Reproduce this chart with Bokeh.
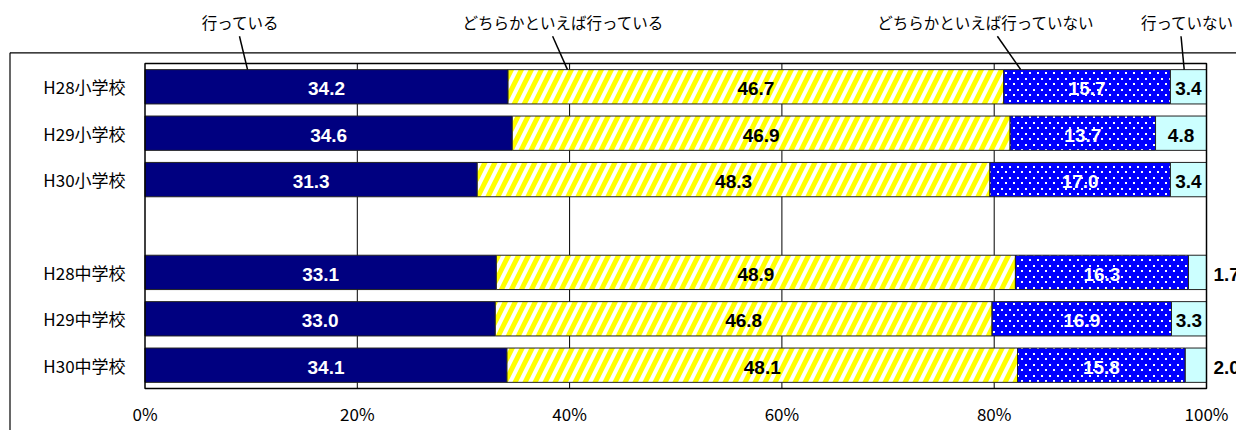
import zlib, struct, base64
from bokeh.plotting import figure
from bokeh.models import Range1d, ColumnDataSource, ImageURLTexture
from bokeh.core.properties import value
from bokeh.embed import file_html
from bokeh.resources import INLINE

# ---------------- data ----------------
categories = ["H28小学校", "H29小学校", "H30小学校", "H28中学校", "H29中学校", "H30中学校"]
slots = [0, 1, 2, 4, 5, 6]          # row positions (row 3 left empty)
series_names = ["行っている", "どちらかといえば行っている", "どちらかといえば行っていない", "行っていない"]
v_do = [34.2, 34.6, 31.3, 33.1, 33.0, 34.1]
v_rather_do = [46.7, 46.9, 48.3, 48.9, 46.8, 48.1]
v_rather_not = [15.7, 13.7, 17.0, 16.3, 16.9, 15.8]
v_not = [3.4, 4.8, 3.4, 1.7, 3.3, 2.0]
x_ticks = [0, 20, 40, 60, 80, 100]
tick_labels = ["0%", "20%", "40%", "60%", "80%", "100%"]

# ---------------- layout ----------------
W, H = 1236, 430
X0_PX = 144.5          # figure px of 0%
PPP = 10.615           # px per percent
Y0_PX = 86.3           # figure px of row 0 centre
ROW_PX = 46.4          # px per row
BAR_H = 0.74

# callout positions (percent / row units)
callout_text_x = [9.0, 39.4, 79.2, 98.2]
callout_top_x = [8.9, 38.4, 80.3, 97.6]
callout_bot_x = [9.66, 39.8, 82.5, 97.9]
callout_text_y = -1.386
callout_top_y = -1.09
callout_bot_y = -0.37

fills = ["#000080", "#FFFFFF", "#0000FF", "#CCFFFF"]
label_colors = ["white", "black", "white", "black"]


# small staggered white-dot texture tile (PNG, transparent background)
def dot_tile_png(w, h, dots):
    raw = b""
    for yy in range(h):
        row = b"\x00"
        for xx in range(w):
            row += b"\xff\xff\xff\xff" if (xx, yy) in dots else b"\x00\x00\x00\x00"
        raw += row

    def chunk(t, d):
        return struct.pack(">I", len(d)) + t + d + struct.pack(">I", zlib.crc32(t + d) & 0xFFFFFFFF)

    return (b"\x89PNG\r\n\x1a\n"
            + chunk(b"IHDR", struct.pack(">IIBBBBB", w, h, 8, 6, 0, 0, 0))
            + chunk(b"IDAT", zlib.compress(raw))
            + chunk(b"IEND", b""))


tile_dots = {(1, 1), (2, 1), (1, 2), (2, 2), (5, 6), (6, 6), (5, 7), (6, 7)}
dot_url = "data:image/png;base64," + base64.b64encode(dot_tile_png(8, 11, tile_dots)).decode()

p = figure(width=W, height=H, output_backend="svg", toolbar_location=None,
           x_range=Range1d(-X0_PX / PPP, (W - X0_PX) / PPP),
           y_range=Range1d((H - Y0_PX) / ROW_PX, -Y0_PX / ROW_PX),
           x_axis_type=None, y_axis_type=None, min_border=0,
           background_fill_color="white", border_fill_color="white")
p.outline_line_color = None
p.grid.visible = False

# outer chart-area frame
outer_left = (9.5 - X0_PX) / PPP
outer_top = (52.3 - Y0_PX) / ROW_PX
p.segment(x0=[outer_left, outer_left], y0=[outer_top, outer_top],
          x1=[200, outer_left], y1=[outer_top, 20], line_color="black", line_width=1.2)

# gridlines
p.segment(x0=x_ticks[1:-1], x1=x_ticks[1:-1], y0=[-0.5] * 4, y1=[6.5] * 4,
          line_color="black", line_width=1)

# stacked bars
series = [v_do, v_rather_do, v_rather_not, v_not]
left = [0.0] * len(categories)
for k, vals in enumerate(series):
    right = [l + v for l, v in zip(left, vals)]
    src = ColumnDataSource(dict(y=slots, left=left, right=right))
    kw = dict(y="y", left="left", right="right", height=BAR_H, source=src,
              fill_color=fills[k], line_color="#222222", line_width=1)
    if k == 1:
        kw.update(hatch_pattern="/", hatch_color="#FFFF00", hatch_scale=20, hatch_weight=5)
    if k == 2:
        kw.update(hatch_pattern=value("tinydots"),
                  hatch_extra={"tinydots": ImageURLTexture(url=dot_url)})
    p.hbar(**kw)

    # labels
    xs, ys, txt, cols, aligns, offs = [], [], [], [], [], []
    for s, l, r, v in zip(slots, left, right, vals):
        if v < 3:
            xs.append(100); aligns.append("left"); offs.append(7); cols.append("black")
        else:
            xs.append((l + r) / 2); aligns.append("center"); offs.append(0); cols.append(label_colors[k])
        ys.append(s); txt.append(f"{v:.1f}")
    lsrc = ColumnDataSource(dict(x=xs, y=ys, t=txt, c=cols, a=aligns, o=offs))
    p.text(x="x", y="y", text="t", source=lsrc, text_color="c", text_align="a",
           x_offset="o", y_offset=2, text_baseline="middle",
           text_font=value("Liberation Sans"), text_font_style="bold",
           text_font_size="19px")
    left = right

# plot area border
p.rect(x=[50], y=[3], width=[100], height=[7], fill_color=None,
       line_color="black", line_width=1.5)

# category labels
p.text(x=[-5.7] * len(categories), y=slots, text=categories, text_align="center",
       text_baseline="middle", text_font=value("Noto Sans CJK JP"),
       text_font_size="17px", text_color="black")

# tick labels
p.text(x=x_ticks, y=[7.04] * len(x_ticks), text=tick_labels, text_align="center",
       text_baseline="middle", text_font=value("Noto Sans CJK JP"),
       text_font_size="17px", text_color="black")

# callouts
p.segment(x0=callout_top_x, y0=[callout_top_y] * 4, x1=callout_bot_x,
          y1=[callout_bot_y] * 4, line_color="black", line_width=1.5)
p.text(x=callout_text_x, y=[callout_text_y] * 4, text=series_names, text_align="center",
       text_baseline="middle", text_font=value("Noto Sans CJK JP"),
       text_font_size="15.5px", text_color="black")

open("out.html", "w").write(file_html(p, INLINE))
